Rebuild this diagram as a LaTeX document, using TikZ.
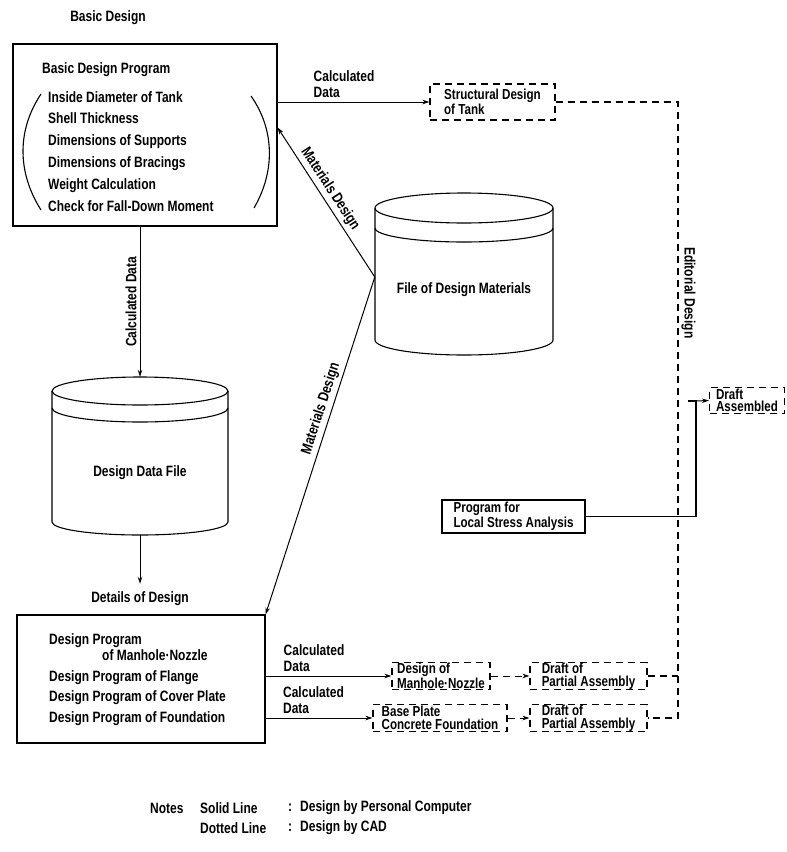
\documentclass[tikz,border=0pt]{standalone}
\usepackage{fontspec}
\setmainfont[FakeStretch=0.8]{Liberation Sans}
\usetikzlibrary{arrows.meta}
\newcommand\ftA{\bfseries\fontsize{15}{15.5}\selectfont}
\newcommand\ftB{\bfseries\fontsize{14.5}{12.5}\selectfont}
\tikzset{
  lbl/.style={font=\ftA, inner sep=0pt, align=left},
  sbox/.style={draw, line width=1.1pt, inner sep=0pt, font=\ftB, align=left},
  dbox/.style={sbox, dash pattern=on 7pt off 5pt},
  arr/.style={-{Stealth[length=7pt,width=4.5pt]}, line width=1pt},
  darr/.style={arr, dash pattern=on 7pt off 5pt},
  dline/.style={line width=1.1pt, dash pattern=on 7pt off 5pt},
  sline/.style={line width=1.1pt},
}
\begin{document}
\begin{tikzpicture}[x=1pt,y=-1pt]
\fill[white] (0,0) rectangle (787,852);
\useasboundingbox (0,0) rectangle (787,852);

% Basic design
\node[lbl] (bd) at (108,18) {Basic Design};
\node[sbox, minimum width=264pt, minimum height=182pt] (bdp) at (145,135) {};
\node[lbl, anchor=west] (bdpt) at (42,70) {Basic Design Program};
\node[lbl, anchor=north west, font=\bfseries\fontsize{15}{21.8}\selectfont] (bdpl) at (48,91)
  {Inside Diameter of Tank\\Shell Thickness\\Dimensions of Supports\\Dimensions of Bracings\\Weight Calculation\\Check for Fall-Down Moment};
\draw[sline] (41,94) .. controls (17,130) and (17,172) .. (41,210);
\draw[sline] (251,96) .. controls (275,130) and (275,172) .. (254,208);

% structural design of tank
\node[dbox, minimum width=125pt, minimum height=36pt] (sdt) at (492.5,102) {Structural Design\\of Tank};
\draw[arr] (sdt.west -| bdp.east) -- node[lbl, pos=0.235, anchor=south west, yshift=4pt] {Calculated\\Data} (sdt.west);

% file of design materials (cylinder)
\node[minimum width=178pt, minimum height=162pt, inner sep=0pt] (dmat) at (464,277) {};
\draw[sline] (375,208) -- (375,340) arc[start angle=180, end angle=360, x radius=89pt, y radius=15pt] -- (553,208);
\draw[sline] (464,208) ellipse [x radius=89pt, y radius=15pt];
\draw[sline] (375,228) arc[start angle=180, end angle=360, x radius=89pt, y radius=14pt];
\node[lbl] (dmatt) at (464,290) {File of Design Materials};

% design data file (cylinder)
\node[minimum width=176pt, minimum height=158pt, inner sep=0pt] (ddf) at (140,456) {};
\draw[sline] (52,391) -- (52,522) arc[start angle=180, end angle=360, x radius=88pt, y radius=13pt] -- (228,391);
\draw[sline] (140,391) ellipse [x radius=88pt, y radius=14pt];
\draw[sline] (52,408) arc[start angle=180, end angle=360, x radius=88pt, y radius=14pt];
\node[lbl] (ddft) at (140,473) {Design Data File};

\draw[arr] (bdp.south -| ddf.north) -- node[lbl, midway, rotate=90, anchor=south, inner sep=3pt] {Calculated Data} (ddf.north);

% details of design
\node[lbl] (dod) at (140,599) {Details of Design};
\draw[arr, shorten >=8pt] (ddf.south) -- (dod.north);

\node[sbox, minimum width=248pt, minimum height=128pt] (dpb) at (141,679) {};
\node[lbl, anchor=north west, font=\bfseries\fontsize{15}{16}\selectfont] (dpbl) at (49,633)
  {Design Program\\\hspace*{53pt}of Manhole\textperiodcentered Nozzle\\[5pt]Design Program of Flange\\[4pt]Design Program of Cover Plate\\[5pt]Design Program of Foundation};

% materials design connectors
\draw[arr] (dmat.west) -- node[lbl, sloped, above, pos=0.55, inner sep=3pt] {Materials Design} ([yshift=-84pt]bdp.north east);
\draw[arr] (dmat.west) -- node[lbl, sloped, above, pos=0.40, inner sep=3pt] {Materials Design} (dpb.north east);

% lower boxes
\node[dbox, minimum width=98pt, minimum height=27pt] (mn) at (441,676) {Design of\\Manhole\textperiodcentered Nozzle};
\node[dbox, minimum width=134pt, minimum height=27pt] (bp) at (440,718) {Base Plate\\Concrete Foundation};
\node[dbox, minimum width=117pt, minimum height=27pt] (dr1) at (588.5,676) {Draft of\\Partial Assembly};
\node[dbox, minimum width=117pt, minimum height=27pt] (dr2) at (588.5,718) {Draft of\\Partial Assembly};

\draw[arr] (dpb.east |- mn.west) -- node[lbl, pos=0.14, anchor=south west, yshift=4pt] {Calculated\\Data} (mn.west);
\draw[arr] (dpb.east |- bp.west) -- node[lbl, pos=0.16, anchor=south west, yshift=4pt] {Calculated\\Data} (bp.west);
\draw[darr] (mn.east) -- (dr1.west);
\draw[darr] (bp.east) -- (dr2.west);

% editorial design
\coordinate (ec) at (678,102);
\draw[dline] (sdt.east) -- (ec) -- node[lbl, pos=0.31, rotate=-90, anchor=south, inner sep=3pt] {Editorial Design} (ec |- dr2.east) -- (dr2.east);
\draw[dline] (dr1.east) -- (ec |- dr1.east);

% draft assembled & local stress
\node[dbox, minimum width=75pt, minimum height=26pt] (dasm) at (747,400.5) {Draft\\Assembled};
\node[sbox, minimum width=143pt, minimum height=33pt] (lsa) at (513.5,516.5) {Program for\\Local Stress Analysis};
\coordinate (jn) at (696,401);
\draw[sline] (lsa.east) -| (jn) -- ++(-8,0);
\draw[arr] (jn) -- (dasm.west);

% notes
\node[lbl, anchor=west] (nt) at (150,808) {Notes};
\node[lbl, anchor=west] (n1a) at (200,808) {Solid Line};
\node[lbl, anchor=west] (n1b) at (288,808) {:};
\node[lbl, anchor=west] (n1c) at (300,808) {Design by Personal Computer};
\node[lbl, anchor=west] (n2a) at (200,828) {Dotted Line};
\node[lbl, anchor=west] (n2b) at (288,828) {:};
\node[lbl, anchor=west] (n2c) at (300,828) {Design by CAD};
\end{tikzpicture}
\end{document}
